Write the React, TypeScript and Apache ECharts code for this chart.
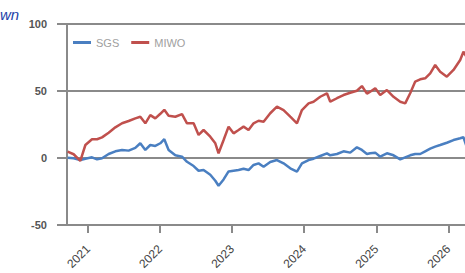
import React, { useEffect, useRef } from "react";
import * as echarts from "echarts";

const yearTicks = [2021, 2022, 2023, 2024, 2025, 2026];
const yTicks = [-50, 0, 50, 100];

const dates = [
  2020.717, 2020.8, 2020.893, 2020.963, 2021.055, 2021.125, 2021.194, 2021.286, 2021.379, 2021.472,
  2021.563, 2021.656, 2021.725, 2021.795, 2021.864, 2021.933, 2022.003, 2022.058, 2022.118, 2022.211,
  2022.304, 2022.373, 2022.465, 2022.534, 2022.603, 2022.696, 2022.766, 2022.811, 2022.881, 2022.95,
  2023.019, 2023.089, 2023.158, 2023.227, 2023.297, 2023.366, 2023.436, 2023.528, 2023.621, 2023.713,
  2023.806, 2023.899, 2023.968, 2024.06, 2024.129, 2024.222, 2024.315, 2024.361, 2024.454, 2024.545,
  2024.638, 2024.731, 2024.8, 2024.87, 2024.915, 2024.985, 2025.054, 2025.147, 2025.239, 2025.332,
  2025.401, 2025.47, 2025.54, 2025.609, 2025.678, 2025.748, 2025.817, 2025.886, 2025.979, 2026.071,
  2026.164, 2026.209, 2026.247,
];

const sgs = [
  0.2, -0.2, -1.5, -0.5, 0.5, -1, -0.2, 3, 5, 6,
  5.5, 7.5, 11, 6, 9.7, 9, 11, 14, 6, 2,
  1, -2.8, -6, -9.5, -9, -12.5, -17, -20.7, -16, -10,
  -9.5, -9, -8, -9, -5.2, -4, -6.5, -3, -1.5, -4,
  -7.7, -10.2, -4, -1.5, -0.5, 1.5, 3.5, 2, 3, 5,
  4, 8, 6, 3, 3.5, 4, 1, 3.5, 2, -1,
  0.5, 2, 3, 3, 5, 7, 8.5, 9.7, 11.4, 13.4,
  14.7, 15.5, 9.5,
];

const miwo = [
  4.7, 2.8, -2.2, 9.7, 14, 14, 15.4, 18.9, 22.9, 25.9,
  27.6, 29.6, 30.8, 25.9, 32, 29.6, 33, 36, 31.5, 30.8,
  32.8, 25.9, 25.9, 17.2, 20.9, 15.9, 11, 3.5, 13.4, 23.4,
  18.4, 20.9, 23.4, 20.9, 25.9, 27.8, 27.1, 33.4, 38.3, 35.8,
  30.8, 25.9, 35.8, 40.8, 42, 45.7, 48.3, 42, 44.6, 47,
  48.7, 50.2, 53.7, 48, 49.5, 52, 47, 50.7, 45.7, 42,
  40.8, 48.3, 57, 58.7, 59.5, 63.2, 69.4, 64.4, 60.7, 65.7,
  73.1, 79.3, 76,
];

const seriesNames = ["SGS", "MIWO"];
const seriesColors = ["#4a7fc1", "#c0504d"];

export default function App() {
  const ref = useRef<HTMLDivElement>(null);
  useEffect(() => {
    if (!ref.current) return;
    const chart = echarts.init(ref.current, null, { renderer: "svg" });
    const gray = "#8a8a8a";
    const font = "Liberation Sans";
    chart.setOption({
      animation: false,
      textStyle: { fontFamily: font },
      graphic: [
        {
          type: "text",
          left: 0,
          top: 7,
          style: {
            text: "wn",
            fontSize: 15,
            fontStyle: "italic",
            fill: "#2342a8",
            fontFamily: font,
          },
        },
      ],
      legend: {
        left: 68,
        top: 32,
        icon: "rect",
        itemWidth: 18,
        itemHeight: 3,
        itemGap: 12,
        textStyle: { color: "#a0a0a0", fontSize: 11, fontFamily: font },
        data: seriesNames,
      },
      grid: { left: 67, top: 24, bottom: 48, right: 10 },
      xAxis: {
        type: "value",
        min: 2020.708,
        max: 2026.3,
        splitLine: { show: false },
        axisLine: { show: true, onZero: false, lineStyle: { color: gray, width: 2 } },
        axisTick: {
          show: true,
          length: 8,
          customValues: yearTicks,
          lineStyle: { color: gray, width: 2 },
        },
        axisLabel: {
          customValues: yearTicks,
          rotate: 45,
          margin: 22,
          color: "#444",
          fontSize: 12,
          fontFamily: font,
          formatter: (v: number) => String(Math.round(v)),
        },
      },
      yAxis: {
        type: "value",
        min: -50,
        max: 100,
        interval: 50,
        axisLine: { show: true, lineStyle: { color: gray, width: 2 } },
        axisTick: { show: true, length: 10, lineStyle: { color: gray, width: 2 } },
        splitLine: { show: true, lineStyle: { color: gray, width: 2 } },
        axisLabel: {
          margin: 20,
          color: "#555",
          fontSize: 11,
          fontWeight: "bold",
          fontFamily: font,
          formatter: (v: number) => (yTicks.includes(v) ? String(v) : ""),
        },
      },
      series: seriesNames.map((name, i) => ({
        name,
        type: "line",
        symbol: "none",
        showSymbol: false,
        color: seriesColors[i],
        lineStyle: { width: 2.5, color: seriesColors[i] },
        data: dates.map((d, j) => [d, i === 0 ? sgs[j] : miwo[j]]),
      })),
    });
    return () => chart.dispose();
  }, []);
  return (
    <div style={{ position: "absolute", left: 0, top: 0, width: 465, height: 273, overflow: "hidden", background: "#fff" }}>
      <div ref={ref} style={{ width: 480, height: 273 }} />
    </div>
  );
}
